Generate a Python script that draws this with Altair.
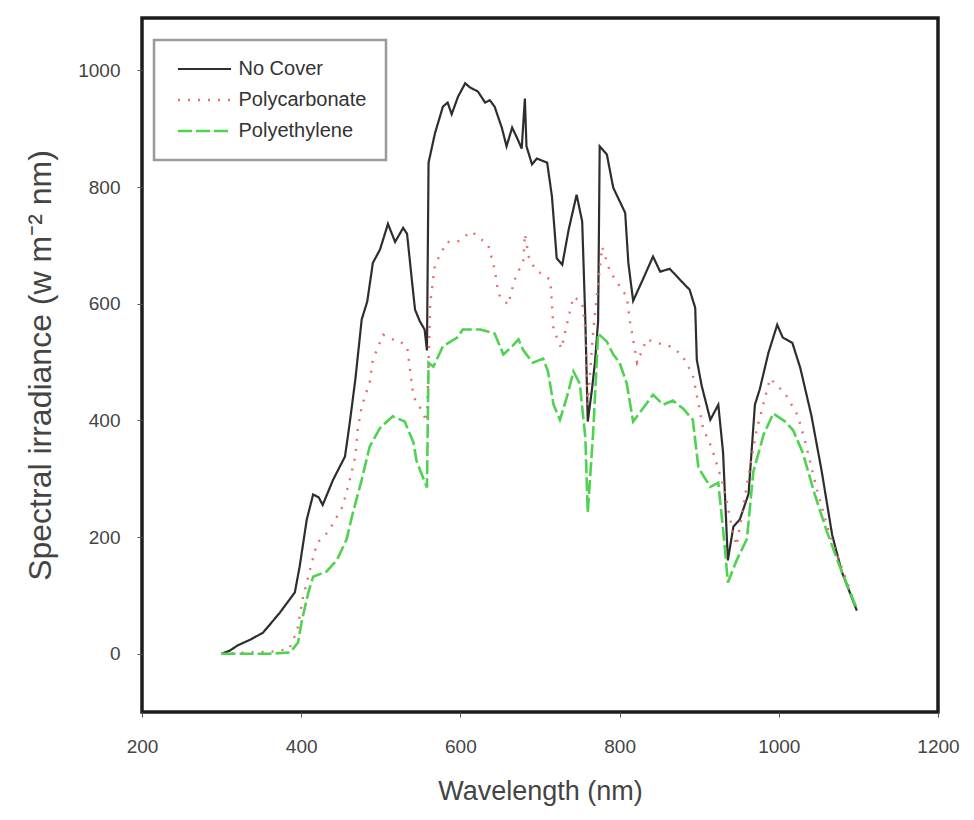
import altair as alt
import pandas as pd

series_names = ["No Cover", "Polycarbonate", "Polyethylene"]

nc_wl = [300, 310, 320, 336, 352, 373, 392, 398, 407, 415, 422, 427, 440, 455, 461, 468, 476, 483, 490, 499,
         509, 518, 528, 533, 539, 543, 549, 555, 558, 560, 568, 578, 584, 589, 597, 606, 612, 622, 631, 637,
         643, 652, 658, 665, 671, 677, 681, 683, 690, 696, 709, 715, 721, 728, 736, 746, 753, 757, 760, 765,
         769, 773, 775, 784, 792, 807, 811, 817, 829, 842, 851, 863, 876, 888, 895, 897, 903, 914, 924, 930,
         936, 943, 951, 962, 970, 976, 987, 998, 1005, 1017, 1027, 1041, 1054, 1067, 1079, 1098]
nc_val = [0, 5, 14, 24, 36, 70, 105, 149, 230, 273, 268, 255, 298, 338, 396, 470, 573, 604, 670, 693,
          737, 706, 730, 720, 641, 590, 570, 556, 520, 842, 892, 938, 945, 925, 955, 978, 971, 964, 945, 949,
          938, 902, 870, 902, 885, 866, 952, 870, 839, 849, 842, 784, 678, 667, 727, 787, 741, 570, 398, 450,
          499, 570, 870, 856, 799, 756, 670, 605, 641, 681, 655, 660, 641, 624, 593, 504, 460, 401, 427, 345,
          160, 218, 230, 274, 427, 453, 516, 564, 542, 533, 490, 408, 312, 204, 141, 74]

pc_wl = [300, 330, 360, 385, 395, 402, 411, 420, 434, 452, 461, 468, 471, 476, 486, 490, 503, 515, 520, 533,
         537, 541, 550, 558, 562, 568, 583, 596, 614, 635, 643, 648, 660, 668, 679, 681, 686, 694, 713, 715,
         717, 727, 734, 742, 753, 757, 760, 767, 778, 788, 809, 813, 822, 834, 847, 863, 878, 892, 905, 916,
         930, 943, 947, 960, 972, 989, 1008, 1024, 1033, 1048, 1064, 1086, 1098]
pc_val = [0, 2, 3, 8, 40, 95, 144, 190, 209, 252, 298, 338, 384, 424, 465, 504, 547, 539, 539, 527,
          484, 441, 420, 398, 600, 667, 706, 706, 724, 701, 659, 616, 598, 641, 674, 720, 680, 659, 641, 598,
          556, 523, 566, 612, 602, 556, 427, 556, 698, 655, 612, 570, 499, 539, 533, 527, 513, 478, 386, 352,
          290, 204, 185, 290, 383, 472, 446, 408, 364, 281, 204, 122, 74]

pe_wl = [300, 332, 360, 386, 396, 401, 409, 415, 432, 445, 457, 465, 476, 486, 499, 515, 530, 541, 545, 558,
         560, 566, 578, 596, 603, 625, 643, 654, 665, 673, 679, 691, 704, 710, 717, 725, 734, 742, 750, 757,
         760, 767, 773, 784, 792, 800, 809, 817, 829, 842, 855, 867, 880, 892, 899, 914, 924, 932, 936, 947,
         960, 968, 981, 993, 1008, 1018, 1030, 1045, 1060, 1077, 1098]
pe_val = [0, 0, 0, 2, 19, 58, 105, 132, 141, 161, 196, 242, 298, 355, 387, 407, 398, 362, 330, 285,
          499, 492, 527, 542, 556, 556, 549, 513, 527, 539, 520, 499, 506, 484, 427, 401, 441, 484, 463, 370,
          242, 384, 549, 535, 513, 499, 463, 398, 420, 444, 427, 434, 420, 401, 319, 286, 293, 185, 122, 160,
          197, 312, 376, 412, 398, 383, 345, 274, 211, 148, 77]

x_ticks = [200, 400, 600, 800, 1000, 1200]
y_ticks = [0, 200, 400, 600, 800, 1000]

frames = []
for name, wl, val in [(series_names[0], nc_wl, nc_val),
                      (series_names[1], pc_wl, pc_val),
                      (series_names[2], pe_wl, pe_val)]:
    frames.append(pd.DataFrame({"series": name, "wavelength": wl, "irradiance": val}))
df = pd.concat(frames, ignore_index=True)

FONT = "Liberation Sans"

color_scale = alt.Scale(domain=series_names, range=["#2e2e2e", "#e2706c", "#4fd24f"])
dash_scale = alt.Scale(domain=series_names, range=[[1, 0], [2, 8], [14, 4]])
width_scale = alt.Scale(domain=series_names, range=[2.2, 2.6, 2.4])

# long horizontal legend sample line (custom symbol path, scaled by sqrt(size)/2)
legend = alt.Legend(
    title=None, orient="none", legendX=12, legendY=22,
    symbolType="M-5.3,0H5.3", symbolSize=100, symbolStrokeWidth=2.5,
    symbolOffset=21.5, labelOffset=24,
    labelFontSize=20, labelFont=FONT, labelColor="#333333",
    padding=19, strokeColor="#9a9a9a", rowPadding=11,
)

chart = alt.Chart(df).mark_line(clip=True).encode(
    x=alt.X("wavelength:Q", scale=alt.Scale(domain=[200, 1200], nice=False, zero=False),
            axis=alt.Axis(values=x_ticks, title="Wavelength (nm)", format="d", labelFlush=False)),
    y=alt.Y("irradiance:Q", scale=alt.Scale(domain=[-100, 1090], nice=False, zero=False),
            axis=alt.Axis(values=y_ticks, title="Spectral irradiance (w m\u207b\u00b2 nm)", format="d",
                          labelFlush=False)),
    color=alt.Color("series:N", scale=color_scale, legend=legend, sort=series_names),
    strokeDash=alt.StrokeDash("series:N", scale=dash_scale, legend=legend, sort=series_names),
    strokeWidth=alt.StrokeWidth("series:N", scale=width_scale, legend=None),
    detail="series:N",
).properties(
    width=796, height=694,
    autosize=alt.AutoSizeParams(type="none"),
    padding={"left": 134, "top": 10, "right": 28, "bottom": 104},
).configure_view(
    stroke="#1c1c1c", strokeWidth=3.5
).configure_axis(
    grid=False, domain=False, ticks=True, tickSize=5, tickColor="#555555", tickWidth=1,
    labelFont=FONT, labelFontSize=19, labelColor="#444444",
    titleFont=FONT, titleColor="#444444", titleFontWeight="normal",
).configure_axisX(
    labelPadding=20, titleFontSize=27, titlePadding=22,
).configure_axisY(
    labelPadding=17, titleFontSize=32, titlePadding=20,
).configure_legend(
    strokeWidth=2.5
)

chart.save("out.html", embed_options={"renderer": "svg", "actions": False})
